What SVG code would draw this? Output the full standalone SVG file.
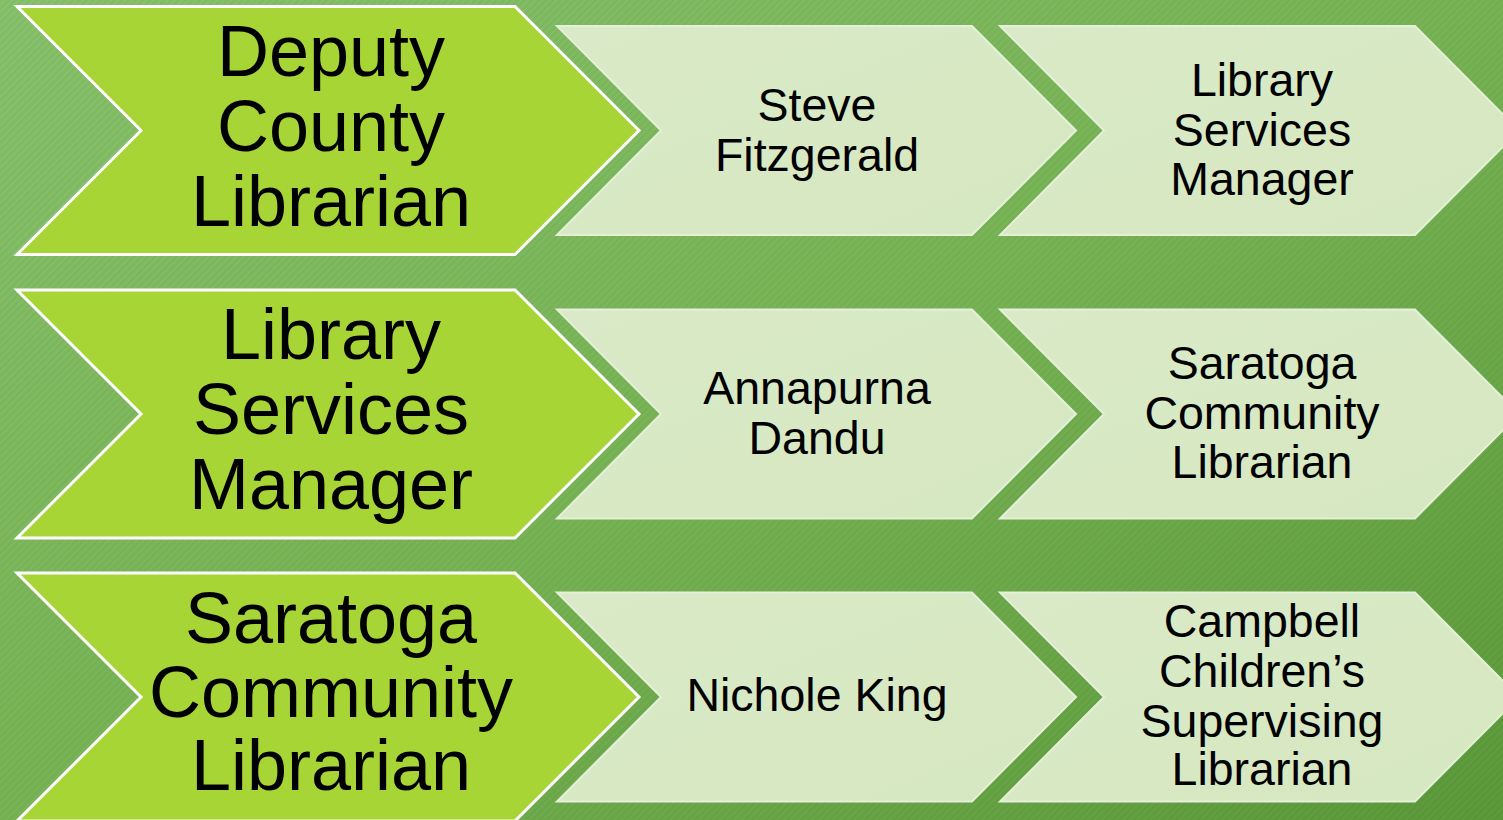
<svg xmlns="http://www.w3.org/2000/svg" width="1503" height="820" viewBox="0 0 1503 820">
  <defs>
    <linearGradient id="bg" x1="0" y1="0" x2="1" y2="1">
      <stop offset="0" stop-color="#88C26C"/>
      <stop offset="0.5" stop-color="#78B455"/>
      <stop offset="1" stop-color="#5C9A3A"/>
    </linearGradient>
    <pattern id="stripes" width="5" height="5" patternUnits="userSpaceOnUse" patternTransform="rotate(-45)">
      <rect x="0" y="0" width="5" height="2.5" fill="#000000" fill-opacity="0.035"/>
    </pattern>
    <linearGradient id="light" x1="0" y1="0" x2="1" y2="1">
      <stop offset="0" stop-color="#DAEAC8"/>
      <stop offset="1" stop-color="#D5E7C0"/>
    </linearGradient>
    <polygon id="big" points="17,-124 515,-124 639,0 515,124 17,124 141,0"/>
    <polygon id="c1" points="557,-104.5 972,-104.5 1076,0 972,104.5 557,104.5 661,0"/>
    <polygon id="c2" points="1000,-104.5 1415,-104.5 1519,0 1415,104.5 1000,104.5 1104,0"/>
  </defs>
  <style>
    .bigShape { fill: #A8D536; stroke: #FFFFFF; stroke-width: 3; }
    .lightShape { fill: url(#light); stroke: #E4F0D9; stroke-width: 2; }
    .bigText { font-family: "Liberation Sans", Arial, sans-serif; font-size: 72px; fill: #000000; text-anchor: middle; }
    .smallText { font-family: "Liberation Sans", Arial, sans-serif; font-size: 46.5px; fill: #000000; text-anchor: middle; }
  </style>
  <rect x="0" y="0" width="1503" height="820" fill="url(#bg)"/>
  <rect x="0" y="0" width="1503" height="820" fill="url(#stripes)"/>

  <g id="connectors"></g>

  <!-- Row 1 -->
  <g id="row1-title" transform="translate(0,130.5)">
    <use href="#big" class="bigShape"/>
    <text class="bigText" x="331" y="-55">Deputy</text>
    <text class="bigText" x="331" y="20">County</text>
    <text class="bigText" x="331" y="95">Librarian</text>
  </g>
  <g id="row1-name" transform="translate(0,130.5)">
    <use href="#c1" class="lightShape"/>
    <text class="smallText" x="817" y="-10">Steve</text>
    <text class="smallText" x="817" y="40">Fitzgerald</text>
  </g>
  <g id="row1-next" transform="translate(0,130.5)">
    <use href="#c2" class="lightShape"/>
    <text class="smallText" x="1262" y="-35">Library</text>
    <text class="smallText" x="1262" y="15">Services</text>
    <text class="smallText" x="1262" y="64">Manager</text>
  </g>

  <!-- Row 2 -->
  <g id="row2-title" transform="translate(0,414)">
    <use href="#big" class="bigShape"/>
    <text class="bigText" x="331" y="-55">Library</text>
    <text class="bigText" x="331" y="20">Services</text>
    <text class="bigText" x="331" y="95">Manager</text>
  </g>
  <g id="row2-name" transform="translate(0,414)">
    <use href="#c1" class="lightShape"/>
    <text class="smallText" x="817" y="-10">Annapurna</text>
    <text class="smallText" x="817" y="40">Dandu</text>
  </g>
  <g id="row2-next" transform="translate(0,414)">
    <use href="#c2" class="lightShape"/>
    <text class="smallText" x="1262" y="-35">Saratoga</text>
    <text class="smallText" x="1262" y="15">Community</text>
    <text class="smallText" x="1262" y="64">Librarian</text>
  </g>

  <!-- Row 3 -->
  <g id="row3-title" transform="translate(0,697)">
    <use href="#big" class="bigShape"/>
    <text class="bigText" x="331" y="-54">Saratoga</text>
    <text class="bigText" x="331" y="20">Community</text>
    <text class="bigText" x="331" y="93">Librarian</text>
  </g>
  <g id="row3-name" transform="translate(0,697)">
    <use href="#c1" class="lightShape"/>
    <text class="smallText" x="817" y="14">Nichole King</text>
  </g>
  <g id="row3-next" transform="translate(0,697)">
    <use href="#c2" class="lightShape"/>
    <text class="smallText" x="1262" y="-60">Campbell</text>
    <text class="smallText" x="1262" y="-10">Children’s</text>
    <text class="smallText" x="1262" y="40">Supervising</text>
    <text class="smallText" x="1262" y="88">Librarian</text>
  </g>
</svg>
